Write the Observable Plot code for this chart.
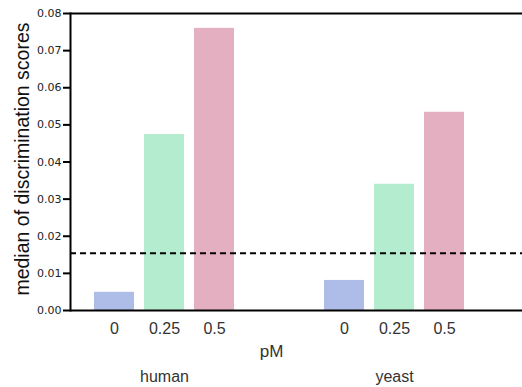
<!DOCTYPE html>
<html>
<head>
<meta charset="utf-8">
<script src="https://cdn.jsdelivr.net/npm/d3@7"></script>
<script src="https://cdn.jsdelivr.net/npm/@observablehq/plot@0.6"></script>
<style>
  html, body { margin: 0; padding: 0; background: #fff; }
</style>
</head>
<body>
<div id="chart"></div>
<script>
const organisms = ["human", "yeast"];
const doses = ["0", "0.25", "0.5"];
const humanValues = [0.0049, 0.0474, 0.0760];
const yeastValues = [0.0081, 0.0340, 0.0534];
const threshold = [0.0154];
const yTicks = [0, 0.01, 0.02, 0.03, 0.04, 0.05, 0.06, 0.07, 0.08];
const barColors = ["#aebde8", "#b3ecce", "#e4afc1"];
const yLabel = "median of discrimination scores";
const xLabel = "pM";

const valuesByOrganism = {human: humanValues, yeast: yeastValues};
const data = organisms.flatMap(org =>
  doses.map((d, i) => ({organism: org, dose: d, value: valuesByOrganism[org][i]}))
);

const chart = Plot.plot({
  width: 522,
  height: 387,
  marginLeft: 70,
  marginRight: 0,
  marginTop: 13,
  marginBottom: 77,
  fx: {domain: organisms, paddingInner: 0.1826, paddingOuter: 0.0739, align: 0, axis: null},
  x: {domain: doses, paddingInner: 0.2, paddingOuter: 0.48, axis: null},
  y: {domain: [0, 0.08], axis: null},
  color: {domain: doses, range: barColors},
  style: {fontFamily: "Liberation Sans, Arial, sans-serif", background: "#fff"},
  marks: [
    Plot.barY(data, {fx: "organism", x: "dose", y: "value", fill: "dose"}),
    Plot.ruleY(threshold, {stroke: "#000", strokeWidth: 2, strokeDasharray: "6,4", insetRight: -42}),
    Plot.ruleY([0], {stroke: "#000", strokeWidth: 2, insetRight: -42}),
    Plot.ruleY([0.08], {stroke: "#000", strokeWidth: 2, insetRight: -42}),
    Plot.frame({anchor: "left", facet: "super", stroke: "#000", strokeWidth: 2}),
    Plot.axisY({ticks: yTicks, tickFormat: ".2f", tickSize: 7, tickPadding: 2, strokeWidth: 2,
      fontSize: 11, fontFamily: "DejaVu Sans", fill: "#222", label: null}),
    Plot.axisX({anchor: "bottom", tickSize: 0, tickPadding: 12, fontSize: 16, fill: "#333", label: null}),
    Plot.axisFx({anchor: "bottom", tickSize: 0, tickPadding: 60, fontSize: 16, fill: "#333", label: null}),
    Plot.text([yLabel], {facet: "super", frameAnchor: "left", rotate: -90, textAnchor: "middle",
      lineAnchor: "bottom", dx: -42, dy: -3, fontSize: 19.5, fill: "#111"}),
    Plot.text([xLabel], {facet: "super", frameAnchor: "bottom", textAnchor: "middle",
      lineAnchor: "bottom", dx: -8, dy: 46, fontSize: 17, fill: "#333"})
  ]
});
document.getElementById("chart").appendChild(chart);
</script>
</body>
</html>
